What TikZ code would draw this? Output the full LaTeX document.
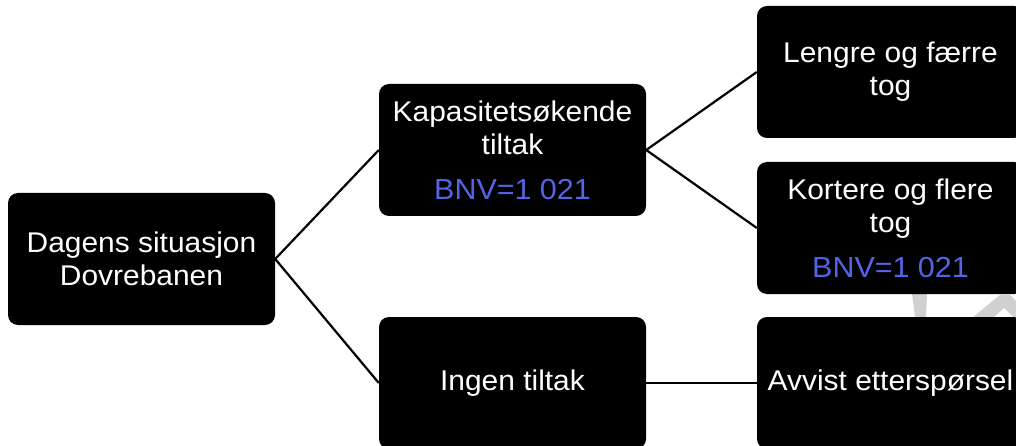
\documentclass[tikz,border=0pt]{standalone}
\usepackage{fontspec}
\setmainfont{Liberation Sans}[FakeStretch=1.05]
\definecolor{bnvblue}{RGB}{84,100,230}
\definecolor{markgrey}{RGB}{208,208,208}
\newcommand{\bigtxt}{\fontsize{28.5}{33}\selectfont}
\newcommand{\midtxt}{\fontsize{28.5}{33}\selectfont}
\newcommand{\bnvtxt}{\fontsize{29}{33}\selectfont\color{bnvblue}}
\tikzset{
  box/.style={fill=black, rounded corners=10pt, minimum width=267pt,
    minimum height=132pt, text=white, align=center, inner sep=0pt},
  link/.style={draw=black, line width=2.2pt}
}
\begin{document}
\begin{tikzpicture}[x=1pt, y=-1pt]
\useasboundingbox (0,0) rectangle (1016,446);
% faint mark behind the boxes
\fill[markgrey] (912,294) -- (927,294) -- (926,317) -- (915,317) -- cycle;
\fill[markgrey] (973,317) -- (1000,295) -- (1010,295) -- (1016,301) -- (1016,317)
  -- (1013,317) -- (1004,308) -- (994,317) -- cycle;
% boxes
\node[box, font=\bigtxt] (dagens) at (141.5,259) {Dagens situasjon\\Dovrebanen};
\node[box, font=\midtxt] (kap) at (512.5,150) {Kapasitetsøkende\\tiltak\\[12pt]{\bnvtxt BNV=1 021}};
\node[box, font=\bigtxt] (ingen) at (512.5,383) {Ingen tiltak};
\node[box, font=\midtxt] (lengre) at (890.5,72) {Lengre og færre\\tog};
\node[box, font=\midtxt] (kort) at (890.5,228) {Kortere og flere\\tog\\[12pt]{\bnvtxt BNV=1 021}};
\node[box, font=\bigtxt] (avvist) at (890.5,383) {Avvist etterspørsel};
% connectors
\draw[link] (dagens.east) -- (kap.west);
\draw[link] (dagens.east) -- (ingen.west);
\draw[link] (kap.east) -- (lengre.west);
\draw[link] (kap.east) -- (kort.west);
\draw[link] (ingen.east) -- (avvist.west);
\end{tikzpicture}
\end{document}
